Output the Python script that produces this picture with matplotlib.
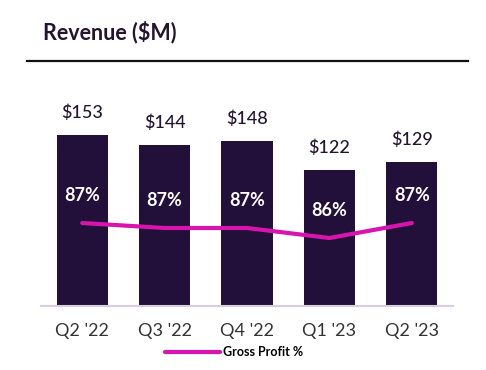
import matplotlib.pyplot as plt
from matplotlib.lines import Line2D

# ---- data ----
quarters = ["Q2 '22", "Q3 '22", "Q4 '22", "Q1 '23", "Q2 '23"]
revenue = [153, 144, 148, 122, 129]
gross_profit = [87.4, 86.9, 86.9, 85.9, 87.4]
gp_labels = ["87%", "87%", "87%", "86%", "87%"]

BAR = "#23103a"
PINK = "#d714ad"
TEXT = "#231530"

plt.rcParams['font.family'] = ['Lato', 'DejaVu Sans']

W, H = 486, 370
fig = plt.figure(figsize=(W / 100, H / 100), dpi=100)

# title + rule
fig.text(43 / W, 1 - 32 / H, "Revenue ($M)", fontsize=15.5, fontweight='bold',
         color=TEXT, va='center', ha='left')
fig.add_artist(Line2D([27 / W, 468 / W], [1 - 60.5 / H, 1 - 60.5 / H],
                      color='#111111', linewidth=1.6))

# main axes in pixel positions
left, right, bottom, top = 41, 453, 306, 80
ax = fig.add_axes([left / W, 1 - bottom / H, (right - left) / W, (bottom - top) / H])
x = list(range(len(quarters)))
ax.bar(x, revenue, width=0.62, color=BAR, zorder=2)
ax.set_xlim(-0.5, 4.5)
ax.set_ylim(0, (bottom - top) / 1.118)
ax.set_xticks(x)
ax.set_xticklabels(quarters, fontsize=13, color='#333333')
ax.tick_params(axis='x', length=0, pad=12)
ax.set_yticks([])
for s in ['top', 'right', 'left']:
    ax.spines[s].set_visible(False)
ax.spines['bottom'].set_color('#d9cde3')
ax.spines['bottom'].set_linewidth(1.5)

for xi, v in zip(x, revenue):
    ax.annotate(f"${v}", (xi, v), xytext=(0, 16), textcoords='offset points',
                ha='center', va='center', fontsize=13, color=TEXT, fontweight='medium')

# gross profit line on secondary axis
ax2 = ax.twinx()
ax2.set_ylim(87.4 - (bottom - 223) / 10, 87.4 + (223 - top) / 10)
ax2.set_yticks([])
for s in ['top', 'right', 'left', 'bottom']:
    ax2.spines[s].set_visible(False)
line, = ax2.plot(x, gross_profit, color=PINK, linewidth=3,
                 solid_joinstyle='round', solid_capstyle='round', zorder=3,
                 label="Gross Profit %")
for xi, v, lab in zip(x, gross_profit, gp_labels):
    ax2.annotate(lab, (xi, v), xytext=(0, 20), textcoords='offset points',
                 ha='center', va='center', fontsize=13, color='white',
                 fontweight='bold')

fig.legend(handles=[line], loc='center', bbox_to_anchor=(234 / W, 1 - 352 / H),
           frameon=False, handlelength=4.4, handletextpad=0.25,
           prop={'weight': 'bold', 'size': 9})

fig.savefig("out.png", dpi=100)
